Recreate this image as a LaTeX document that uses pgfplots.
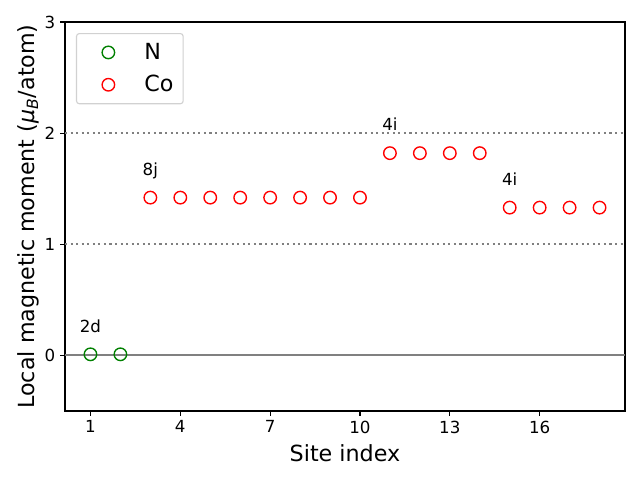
\documentclass[border=0pt]{standalone}
\usepackage{pgfplots}
\pgfplotsset{compat=1.18}
\usepackage{fontspec}
\setmainfont{DejaVu Sans}
\definecolor{mplgreen}{RGB}{0,128,0}
\definecolor{mplred}{RGB}{255,0,0}
\begin{document}
\begin{tikzpicture}
\path[use as bounding box] (-46.8pt,-49.68pt) rectangle (414pt,295.92pt);
\begin{axis}[
  at={(0,0)}, anchor=south west,
  scale only axis, width=403.2pt, height=280.08pt,
  xmin=0.15, xmax=18.85, ymin=-0.5, ymax=3,
  xtick={1,4,7,10,13,16}, ytick={0,1,2,3},
  tick align=outside, tick pos=left,
  major tick length=3.5pt,
  every tick/.style={black, line width=0.8pt},
  axis line style={line width=0.8pt},
  /pgf/number format/assume math mode=true,
  tick label style={font=\fontsize{12}{14}\selectfont},
  xlabel={Site index},
  ylabel={Local magnetic moment (\textit{μ}\textsubscript{\textit{B}}/atom)},
  label style={font=\fontsize{16}{19}\selectfont},
  xlabel style={yshift=-1pt},
  ylabel style={yshift=-3pt},
  legend style={at={(0.0196,0.9717)}, anchor=north west,
    draw=black!18, rounded corners=2pt, line width=0.8pt,
    font=\fontsize{16}{19}\selectfont, inner xsep=5pt, inner ysep=5pt,
    row sep=6pt},
  legend cell align=left,
  mymark/.style={legend image code/.code={\draw[##1, line width=1pt, fill=none] (0.63cm,0cm) circle (4.5pt); \path[draw=none, fill=none] (1.47cm,0) -- (0,0);}},
  clip=false,
]
\addplot[gray, line width=1.5pt, forget plot] coordinates {(0.15,0) (18.85,0)};
\addplot[gray, line width=1.5pt, dash pattern=on 1.5pt off 2.5pt, forget plot] coordinates {(0.15,1) (18.85,1)};
\addplot[gray, line width=1.5pt, dash pattern=on 1.5pt off 2.5pt, forget plot] coordinates {(0.15,2) (18.85,2)};
\addplot[only marks, mark=o, mark size=4.5pt, mplgreen, line width=1pt, mymark] coordinates {(1,0.01) (2,0.01)};
\addlegendentry{N}
\addplot[only marks, mark=o, mark size=4.5pt, mplred, line width=1pt, mymark] coordinates {
(3,1.42) (4,1.42) (5,1.42) (6,1.42) (7,1.42) (8,1.42) (9,1.42) (10,1.42)
(11,1.82) (12,1.82) (13,1.82) (14,1.82)
(15,1.33) (16,1.33) (17,1.33) (18,1.33)};
\addlegendentry{Co}
\node[anchor=base, font=\fontsize{12}{14}\selectfont, inner sep=0pt] at (axis cs:1,0.21) {2d};
\node[anchor=base, font=\fontsize{12}{14}\selectfont, inner sep=0pt] at (axis cs:3,1.62) {8j};
\node[anchor=base, font=\fontsize{12}{14}\selectfont, inner sep=0pt] at (axis cs:11,2.02) {4i};
\node[anchor=base, font=\fontsize{12}{14}\selectfont, inner sep=0pt] at (axis cs:15,1.53) {4i};
\end{axis}
\end{tikzpicture}
\end{document}
